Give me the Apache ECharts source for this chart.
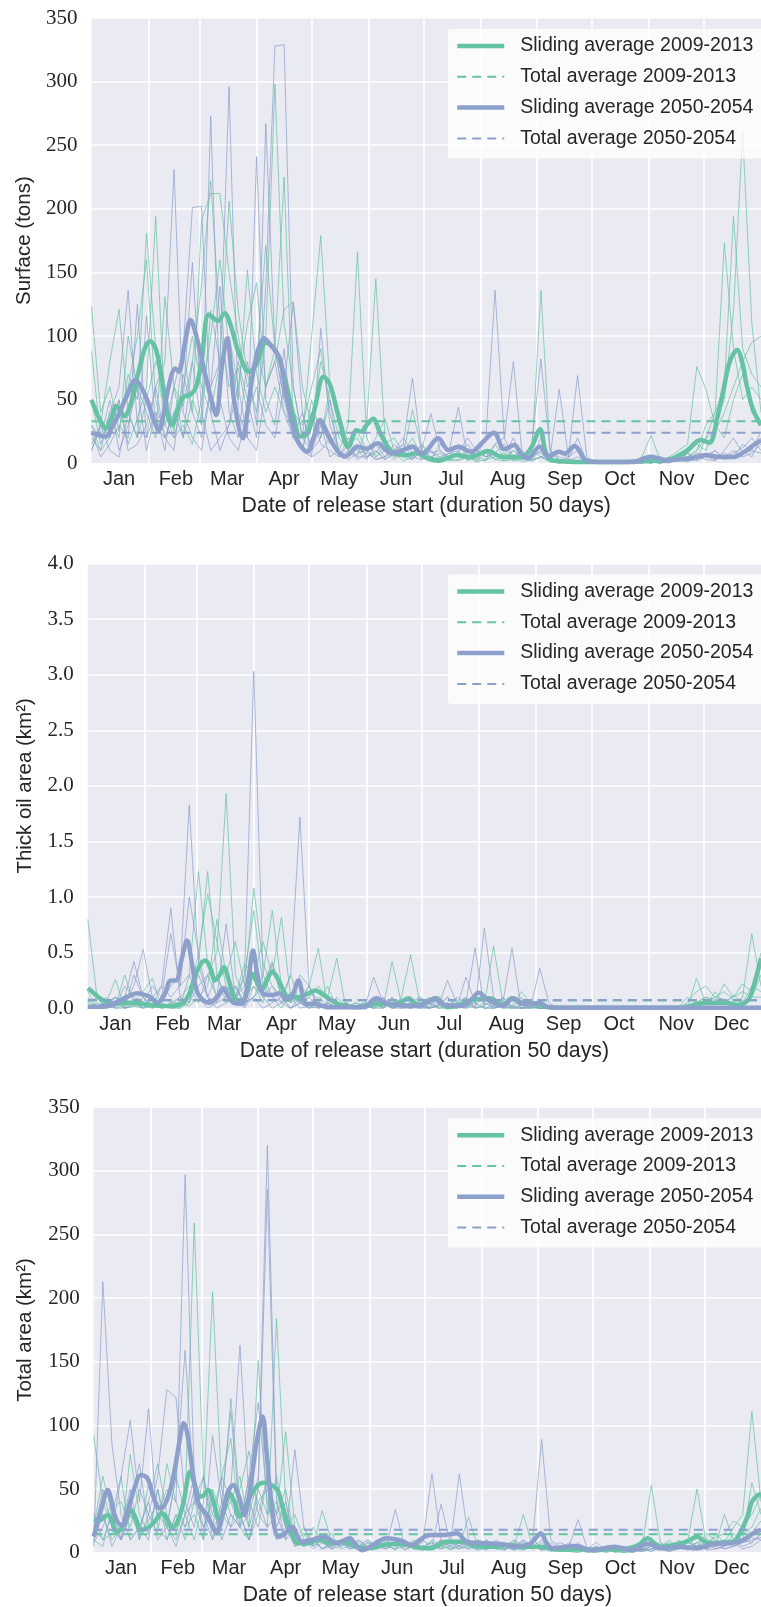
<!DOCTYPE html>
<html><head><meta charset="utf-8">
<script src="https://cdn.jsdelivr.net/npm/echarts@6/dist/echarts.min.js"></script>
<style>html,body{margin:0;padding:0;background:#fff}#c{width:761px;height:1607px}</style>
</head><body><div id="c"></div>
<script>
// ---------- categories / ticks ----------
const monthNames = ['Jan','Feb','Mar','Apr','May','Jun','Jul','Aug','Sep','Oct','Nov','Dec'];
const monthMidDays = [15,46,74,105,135,166,196,227,258,288,319,349];
const monthStartDays = [31,59,90,120,151,181,212,243,273,304,334];
const days = [0,5,10,15,20,25,30,35,40,45,50,55,60,65,70,75,80,85,90,95,100,105,110,115,120,125,130,135,140,145,150,155,160,165,170,175,180,185,190,195,200,205,210,215,220,225,230,235,240,245,250,255,260,265,270,275,280,285,290,295,300,305,310,315,320,325,330,335,340,345,350,355,360,365];
const legendNames = ['Sliding average 2009-2013','Total average 2009-2013','Sliding average 2050-2054','Total average 2050-2054'];

// ---------- Panel 1: Surface (tons) ----------
const surfY0913_1 = [123,40,60,25,70,50,181,90,30,60, 45,80,140,222,110,60,75,40,90,60, 80,121,127,60,30,80,50,20,10,25, 10,5,15,20,8,42,10,5,3,8, 5,10,3,2,15,5,3,8,2,5, 2,1,0,1,0,0,1,0,0,1, 0,2,5,1,3,5,10,20,40,60, 194,90,70,60];
const surfY0913_2 = [88,20,30,50,15,35,60,194,40,20, 30,15,50,100,160,90,50,152,70,40, 60,40,30,20,100,179,60,30,15,20, 5,10,3,8,2,5,15,3,1,3, 2,5,1,3,5,8,2,3,6,136, 10,3,1,0,0,1,0,0,0,0, 1,0,2,5,3,8,15,10,30,50, 120,260,110,40];
const surfY0913_3 = [10,30,80,121,40,20,50,80,60,25, 90,40,191,212,212,150,100,60,80,171, 90,50,40,30,60,90,40,10,30,166, 20,5,10,3,8,20,5,10,2,5, 8,3,5,10,3,2,5,1,3,10, 3,1,2,0,1,0,0,1,0,0, 5,22,3,1,5,8,3,20,25,40, 60,80,95,100];
const surfY0913_4 = [30,10,20,40,60,100,160,50,20,40, 60,100,60,40,80,206,120,70,40,100, 298,110,60,20,40,30,15,25,10,5, 30,145,20,5,10,15,3,5,8,2, 3,5,2,8,3,5,10,3,2,5, 1,0,2,1,0,0,0,0,1,0, 2,3,0,5,10,15,76,58,30,20, 50,70,40,30];
const surfY0913_5 = [50,15,40,20,100,60,40,20,131,60, 20,50,30,120,80,100,60,110,142,60, 90,225,30,10,50,20,60,40,15,10, 8,20,35,10,5,3,10,2,5,3, 10,2,5,3,8,2,3,5,10,8, 2,0,1,0,0,1,0,0,0,2, 3,1,0,2,8,5,10,30,40,173, 90,50,60,50];
const surfY5054_1 = [20,10,40,60,136,30,20,60,80,231, 40,20,10,60,80,296,40,20,10,60, 80,40,20,10,5,106,30,10,5,15, 5,10,3,8,15,5,3,10,5,8, 10,15,5,20,136,20,5,10,3,5, 8,3,2,5,1,0,0,1,0,0, 0,1,0,3,5,2,4,8,3,5, 10,5,8,15];
const surfY5054_2 = [25,5,15,30,20,125,20,40,10,60, 90,201,202,40,10,30,80,50,20,140, 328,329,60,20,10,30,5,10,3,8, 10,3,5,15,8,3,10,39,10,5, 8,3,10,5,8,15,3,5,10,5, 3,10,5,69,5,1,0,0,1,0, 1,0,2,1,3,1,5,3,2,8, 5,10,5,20];
const surfY5054_3 = [15,30,10,5,40,20,116,30,20,40, 20,80,30,273,50,20,10,40,60,30, 20,60,126,40,10,20,50,5,20,10, 3,15,5,10,20,8,5,3,15,10, 44,5,10,5,8,3,10,5,15,82, 10,5,3,2,0,1,0,0,0,1, 0,2,1,0,5,3,2,6,10,4, 8,12,20,10];
const surfY5054_4 = [30,20,50,10,30,60,10,40,30,20, 50,158,40,10,20,30,60,20,241,50, 30,90,20,10,40,15,10,5,10,3, 8,3,5,10,15,67,10,5,3,5, 15,5,3,10,8,5,20,3,5,10, 5,58,5,10,2,1,0,0,1,0, 1,2,0,1,5,3,8,5,3,10, 20,8,10,25];
const surfY5054_5 = [10,30,20,50,10,15,30,60,20,10, 70,40,20,60,139,40,20,80,30,267, 90,50,20,40,5,10,20,5,15,5, 5,8,20,5,10,3,15,8,10,3, 8,20,10,5,15,20,80,3,5,20, 5,10,3,20,1,0,1,0,0,0, 2,0,3,1,2,8,3,5,10,3, 5,15,10,8];
const surfSlide0913 = [[0,50],[4,36],[8,27.5],[11,36],[13.5,45],[16,41],[18,37],[21,45],[25,68],[29,90],[32,96],[35,90],[38,70],[41,42],[44,30],[47,42],[50,52],[54,54],[57,60],[60,80],[64,117],[69,112],[72.5,118],[76,108],[80,88],[86,72],[90,78],[95,95],[98.5,92],[102,84],[106,63],[110,38],[114,21],[118,24],[122,45],[126.5,68],[130,62],[135,35],[140,13],[144.5,26],[147,25],[150,30],[153.5,35],[157,25],[161,14],[165,8],[172,6.5],[177.5,8],[183,4],[189,2],[194,4],[199,6.5],[206,5],[211,7],[216,9.7],[224,5],[235,5.2],[240,13],[244.5,26.7],[249,4],[258,1.5],[270,1],[290,1],[305,2],[314,2.5],[320,6],[325,10.4],[332,18.3],[337,16.2],[341,35],[344.5,57.6],[348,80],[352,89],[355,78],[357,62.8],[360.7,42],[365,30]];
const surfSlide5054 = [[0,24],[4,22],[8,21],[11,28],[14.3,36.6],[19,52],[24,65.4],[27,60],[30.4,49.7],[33.5,36],[36.7,26],[39.5,40],[42,60],[45.7,74.6],[47.5,72],[51,95],[54,112.6],[57.5,98],[61,75.9],[64.5,55],[68,38],[71,75],[74,98.2],[76,75],[78,47],[82.5,19.6],[85,40],[88,70.7],[91,90],[94,98.2],[97,94],[100.5,87.7],[103,81],[106,55],[109.5,31.4],[113,16],[117.5,9.1],[121,20],[124.7,34],[127.5,27],[130,19.6],[134,10],[138,5.2],[141,8],[145,13],[150,11.5],[156,15.7],[160,11],[163.6,7.8],[169,10],[175,13],[180,7.8],[183,10.4],[189,19.6],[194.6,10.4],[200,13],[207,9],[213.5,17],[219.4,24],[225,11],[230.5,14.4],[234,8],[238,4],[244.3,13],[249,5.2],[254.7,9.1],[258,7.8],[263.4,13.6],[270,2],[280,1],[295,1],[305,5.2],[314,2.5],[320,3],[327,4],[334.7,6.5],[343,5],[350,5],[356,9],[361,14.4],[365,18]];
const surfTotal = [33, 24];

// ---------- Panel 2: Thick oil area (km2) ----------
const thickY0913_1 = [0.8,0.1,0,0.05,0,0.02,0.1,0,0.05,0, 0,0.3,1.23,0.4,0.1,0.2,0.05,0.3,0.88,0.2, 0.1,0,0.15,0.05,0,0.1,0.02,0,0.05,0, 0,0.05,0,0.42,0.05,0,0.02,0,0.03,0, 0,0.05,0,0.02,0.1,0,0,0.03,0,0, 0,0,0,0,0,0,0,0,0,0, 0,0,0,0,0.02,0,0.05,0.1,0.08,0.05, 0.1,0.22,0.15,0.5];
const thickY0913_2 = [0.1,0,0.05,0.26,0,0.02,0,0.05,0,0.03, 0.1,0.05,0.4,1.23,0.3,0.1,0.2,0.05,0.1,0.3, 0.88,0.2,0.05,0.1,0,0.05,0.2,0,0,0.05, 0.02,0,0.05,0,0.1,0.48,0.05,0,0.02,0.1, 0.03,0,0.05,0,0,0.02,0,0,0.01,0, 0,0,0,0,0.01,0,0,0,0,0, 0,0,0.02,0,0,0.05,0.15,0.2,0.1,0.08, 0.05,0.1,0.67,0.2];
const thickY0913_3 = [0.05,0.1,0,0.02,0.3,0.05,0,0.02,0.05,0, 0.02,0.1,0.5,1.03,0.6,0.2,0.1,0.4,0.3,0.6, 0.3,0.82,0.1,0.05,0.2,0.05,0,0.1,0.02,0, 0.05,0,0.02,0.1,0,0.05,0.03,0.1,0,0.02, 0.05,0.1,0,0.02,0.56,0.05,0.02,0.15,0.05,0, 0.01,0,0,0,0,0,0.01,0,0,0, 0,0.01,0,0,0,0.1,0.05,0,0.15,0.05, 0.12,0.05,0.1,0.3];
const thickY0913_4 = [0.15,0,0.1,0,0.02,0.05,0.15,0.27,0,0.02, 0,0.05,0.2,0.3,0.5,1.93,0.3,0.1,0.2,0.05, 0.4,0.1,0.05,0.3,0.2,0.54,0.02,0.05,0,0.02, 0,0.02,0.05,0,0.02,0,0.1,0.05,0,0.05, 0,0.02,0.05,0.1,0,0.05,0.1,0,0.02,0, 0,0,0.01,0,0,0,0,0,0,0, 0,0,0,0.02,0,0,0.27,0.05,0.1,0.15, 0.08,0.05,0.2,0.15];
const thickY0913_5 = [0.05,0.02,0.05,0.1,0,0.03,0.02,0,0.1,0.05, 0.05,0.02,0.1,0.2,0.8,0.3,0.6,0.2,1.08,0.4, 0.2,0.1,0.3,0.05,0.1,0.2,0.1,0.45,0,0.05, 0.02,0.1,0,0.05,0.02,0.05,0,0.02,0.1,0, 0.02,0,0.1,0.05,0,0.1,0.02,0,0,0.02, 0,0,0,0,0,0,0,0.01,0,0, 0,0,0,0,0.01,0,0.05,0.1,0.05,0.22, 0.1,0.15,0.1,0.1];
const thickY5054_1 = [0,0.02,0.05,0,0.1,0.42,0.1,0,0.05,0.2, 0.3,1.83,0.4,0.1,0,0.05,0.2,0.02,0.1,0, 0.05,0.1,0,0.05,0,0.02,0,0,0.05,0, 0,0.28,0.05,0,0.02,0,0.05,0,0.02,0.1, 0,0.05,0,0.72,0.1,0,0.02,0,0.05,0, 0,0,0.01,0,0,0,0,0,0,0.01, 0,0,0,0,0,0,0,0,0.01,0, 0,0,0.01,0];
const thickY5054_2 = [0.02,0,0,0.1,0.05,0.2,0.53,0.1,0,0.05, 0.1,0.2,0.05,0.3,0.1,0.76,0.1,0,0.2,0.1, 0,0.05,0.1,0,0.02,0,0.05,0,0,0.02, 0.05,0,0.1,0,0,0.05,0.1,0,0.02,0.25, 0.05,0,0.02,0.1,0,0.05,0,0.1,0,0.36, 0.05,0,0,0,0.02,0,0,0,0,0, 0,0,0,0,0,0,0,0.01,0,0, 0,0.02,0,0];
const thickY5054_3 = [0.01,0,0.02,0,0,0.05,0,0.1,0.2,0.9, 0.1,0.05,0.3,0.1,0.05,0.2,0.1,0.3,3.03,0.3, 0.1,0.05,0,0.1,0.2,0,0.05,0,0,0.02, 0,0.05,0,0.1,0,0.02,0,0.05,0,0, 0.1,0.05,0.54,0,0.02,0.1,0,0,0.05,0, 0,0,0,0,0,0,0.01,0,0,0, 0,0,0.01,0,0,0,0,0,0,0.02, 0,0,0,0.01];
const thickY5054_4 = [0,0.05,0,0.02,0.2,0.1,0.05,0.2,0.1,0.67, 0.2,0.3,0.1,0,0.05,0.1,0.2,0.05,0.1,0.2, 0.42,0.1,0,0.05,0.1,0,0.02,0,0.05,0, 0.02,0,0,0.05,0,0,0.02,0,0.05,0, 0,0.28,0.05,0,0,0.02,0.1,0,0,0.05, 0,0,0,0.01,0,0,0,0,0,0, 0,0.01,0,0,0,0,0.01,0,0,0, 0.02,0,0,0];
const thickY5054_5 = [0.02,0,0.05,0.1,0,0.3,0.1,0.02,0.2,0.1, 0.2,1.0,0.5,0.1,0.3,0.05,0.1,0.2,0.5,0.1, 0.2,0.05,0.3,1.72,0.2,0,0.05,0,0.02,0, 0,0.02,0.1,0,0.05,0.02,0,0,0.1,0.02, 0.02,0.1,0,0.05,0.02,0.05,0.54,0,0.02,0, 0,0,0,0,0,0.01,0,0,0,0, 0,0,0,0,0,0.02,0,0,0,0, 0,0,0.02,0];
const thickSlide0913 = [[0,0.18],[3,0.14],[6.5,0.09],[10,0.06],[14,0.04],[20,0.05],[25,0.05],[30,0.04],[34,0.03],[40,0.02],[45,0.02],[49,0.03],[52,0.05],[55,0.13],[57.4,0.25],[60.5,0.38],[63.7,0.43],[66.5,0.36],[69,0.25],[71.5,0.3],[73.8,0.37],[76.5,0.25],[79.7,0.09],[84,0.07],[86.5,0.15],[89.2,0.31],[91.5,0.24],[94,0.16],[97,0.25],[100,0.33],[103.5,0.25],[107.4,0.12],[111,0.1],[114.5,0.1],[119,0.13],[123.5,0.16],[127,0.13],[131,0.085],[137,0.03],[146,0.01],[152,0.03],[157,0.04],[161,0.04],[165,0.035],[170,0.06],[174,0.09],[177,0.05],[180,0.03],[184,0.06],[189,0.09],[195,0.01],[203,0.04],[210.6,0.08],[218,0.09],[225,0.03],[230,0.09],[236,0.05],[240,0.05],[247,0.02],[253,0.005],[290,0.005],[321,0.005],[326.7,0.02],[330,0.04],[339,0.05],[346,0.05],[352,0.03],[358,0.075],[361,0.2],[365,0.45]];
const thickSlide5054 = [[0,0.015],[8,0.015],[12,0.03],[16.4,0.06],[21,0.1],[27,0.135],[31,0.12],[34,0.1],[38,0.05],[41.5,0.12],[45,0.25],[47.7,0.25],[51,0.45],[53.8,0.61],[56.5,0.4],[59,0.16],[62,0.08],[66,0.05],[70,0.1],[73.5,0.18],[76.5,0.1],[79,0.05],[83.5,0.04],[86.5,0.2],[89.6,0.52],[92,0.3],[95,0.135],[100,0.12],[104,0.135],[108,0.08],[111,0.12],[114.2,0.25],[116.5,0.12],[118,0.04],[123.5,0.04],[130,0.01],[150,0.01],[153,0.05],[156.5,0.09],[160,0.06],[163,0.04],[170,0.03],[178.5,0.02],[184,0.05],[188,0.09],[191,0.05],[194,0.03],[203,0.02],[208,0.08],[212,0.14],[216,0.09],[220,0.05],[225,0.02],[230.5,0.09],[236,0.04],[241,0.04],[245,0.05],[250,0.01],[270,0.005],[365,0.005]];
const thickTotal = [0.07, 0.075];

// ---------- Panel 3: Total area (km2) ----------
const totY0913_1 = [92,40,20,10,30,15,25,40,20,10, 30,40,60,20,30,121,40,20,50,30, 60,20,10,15,5,33,10,5,8,3, 5,10,3,8,2,5,10,3,5,8, 3,5,10,5,3,2,8,3,5,2, 3,1,2,5,1,0,2,1,0,1, 2,5,3,1,8,3,5,10,5,30, 10,20,15,25];
const totY0913_2 = [20,60,30,10,77,30,15,50,10,30, 10,40,20,30,60,90,20,10,30,60, 30,50,10,5,20,8,3,10,5,2, 8,3,10,5,8,3,2,10,5,3, 5,28,5,10,3,5,2,8,3,5, 2,5,1,0,3,1,5,0,2,1, 3,1,5,10,3,8,5,3,15,8, 20,30,111,40];
const totY0913_3 = [10,5,35,40,20,50,30,15,70,40, 20,30,10,50,30,40,60,20,151,30, 40,20,30,10,5,10,15,3,5,8, 3,5,8,2,10,3,5,8,3,10, 8,3,5,2,10,3,5,30,5,3, 5,2,1,3,0,2,1,3,0,2, 1,3,5,8,3,10,5,15,10,5, 15,10,55,30];
const totY0913_4 = [30,10,15,60,10,20,40,70,30,15, 40,259,60,10,30,20,50,80,30,20, 184,40,10,20,8,15,5,10,3,5, 10,5,3,8,5,10,3,5,8,2, 5,10,3,8,5,2,10,5,3,8, 3,1,5,2,1,3,0,2,1,3, 5,53,8,3,10,5,8,12,5,10, 8,15,20,35];
const totY0913_5 = [15,30,10,20,40,10,55,30,20,60, 30,10,40,205,50,30,20,60,40,50, 30,95,20,5,10,3,8,5,10,3, 2,8,5,3,5,8,2,5,3,5, 10,5,2,3,8,5,3,2,10,5, 1,3,2,5,2,1,3,1,2,0, 3,8,5,3,5,10,50,8,12,15, 25,20,30,45];
const totY5054_1 = [5,213,85,30,10,20,40,10,20,5, 30,60,10,92,40,20,30,10,50,285, 40,10,20,5,10,3,8,10,5,3, 8,5,3,10,5,8,3,5,10,5, 62,10,5,3,8,5,2,10,5,3, 5,2,8,3,1,5,2,3,1,2, 3,1,5,2,3,8,5,3,5,10, 5,8,10,12];
const totY5054_2 = [20,10,30,60,104,40,113,20,10,30, 20,50,30,10,40,111,30,10,40,20, 30,10,81,20,5,10,3,8,5,10, 5,3,8,5,10,3,5,8,3,10, 5,3,10,8,3,5,10,3,8,89, 10,5,3,8,2,5,1,3,2,1, 2,5,3,1,5,3,8,2,3,5, 8,3,5,10];
const totY5054_3 = [10,30,5,20,50,10,30,60,128,122, 40,20,60,30,20,50,163,40,20,60, 20,40,5,10,3,8,5,10,3,5, 10,3,5,34,5,8,3,5,10,3, 8,5,3,10,5,3,8,2,5,10, 3,8,5,26,3,2,5,1,3,2, 1,3,2,5,8,3,5,3,8,3, 5,10,8,15];
const totY5054_4 = [15,50,20,10,40,70,20,30,50,40, 297,60,20,40,10,30,20,60,118,40, 10,20,5,8,10,3,5,8,3,10, 3,8,5,3,10,5,8,62,10,5, 3,8,5,10,3,5,3,8,5,2, 5,3,1,5,3,8,2,3,5,1, 3,5,8,3,5,2,5,8,3,5, 10,5,8,15];
const totY5054_5 = [8,20,40,10,30,20,10,50,20,60, 159,40,30,20,60,40,20,30,60,320, 50,20,10,5,8,10,3,5,10,5, 3,10,5,8,3,5,10,5,38,8, 5,10,3,5,8,3,5,10,3,5, 8,3,5,2,3,1,5,2,3,5, 2,3,5,1,3,5,2,8,5,3, 5,8,12,10];
const totSlide0913 = [[0,26.2],[3,25.4],[7.7,29.6],[10,25],[12.2,16.5],[14.5,18],[16.7,23],[20.3,33.6],[23,27],[25.7,17.8],[29,19],[33,23.8],[37.5,31],[40,27],[42.9,19.2],[46,25],[49,38.8],[52.8,63.7],[55,55],[58,44],[60,45],[62.7,49.3],[65.5,40],[69,25.7],[71.5,34],[74.4,46.7],[77,40],[79.8,28.3],[83,36],[87,48],[92.4,55],[96,54],[100.5,49.3],[103,38],[106.8,20.4],[112,7.4],[117.5,7.4],[123,10],[130,7.4],[137,8.6],[144,4.7],[151,3.4],[158,6],[167,7],[176,4.7],[184,3.4],[193,8.6],[202,8.6],[209.5,5.3],[218.5,4.7],[227.5,6],[234.7,4.7],[243.7,4.7],[252.7,2.6],[263.5,2.6],[278,2.6],[292,3.4],[298,6],[303,11.3],[307,7],[310.5,4.7],[321.3,7.4],[326,10],[330,12.6],[334,9],[337,7.4],[343,8],[349.7,8.6],[353,14],[355.3,20.4],[358,30],[360,40],[363,45],[365,46]];
const totSlide5054 = [[0,12.6],[4,33.6],[7.7,49.3],[9.5,42],[11.4,29.6],[13.5,23],[15.8,21.8],[18,30],[20.3,41.4],[23,54],[25.7,61],[29.3,58.7],[32,47],[34.8,36],[37,35],[40,41.4],[42.5,53],[44.6,67.6],[47,88],[49.2,101.7],[51,95],[52.8,78],[55,55],[57.3,38.8],[62,29.6],[64.5,22],[67.2,15.2],[70,28],[73,46],[76.2,53.2],[79.5,44],[82.5,29.6],[85,45],[87,65],[89.5,90],[92.4,107],[94.5,80],[97,41.4],[101,12.4],[104.5,15],[108.6,20.4],[111,14],[114,8.6],[119,10],[126,12.6],[133,7.4],[140,11.3],[143.5,6],[147,2],[152.7,6],[156,9],[160,11.3],[167,10],[174.5,6],[177,8.6],[184,13.9],[191.5,13.9],[198.7,15.2],[204,8.6],[213,7.4],[224,6.7],[231,4.7],[238.5,6.8],[241.5,11],[244.5,15.2],[248,7],[251,3.4],[257,4.5],[263.5,5.3],[272.5,2],[285,4.7],[294,2],[303,7],[310.5,3.4],[319.5,4.7],[330,3.4],[339,7],[348,7.4],[355.3,10],[360.7,15.2],[365,18]];
const totTotal = [14.5, 18];

// ---------- build ----------
const GREEN = '#66c2a5', BLUE = '#8da0cb', TXT = '#262626';
const SANS = 'Liberation Sans', SERIF = 'Liberation Serif';
const panels = [
  {grid:{left:91.5, top:18, width:677.5, height:445.3}, yName:'Surface (tons)', max:350, interval:50, dec:0, nameGap:57,
   thin09:[surfY0913_1,surfY0913_2,surfY0913_3,surfY0913_4,surfY0913_5], thin50:[surfY5054_1,surfY5054_2,surfY5054_3,surfY5054_4,surfY5054_5],
   sa09:surfSlide0913, sa50:surfSlide5054, tot:surfTotal},
  {grid:{left:87.8, top:563.5, width:681.5, height:444.8}, yName:'Thick oil area (km²)', max:4, interval:0.5, dec:1, nameGap:52,
   thin09:[thickY0913_1,thickY0913_2,thickY0913_3,thickY0913_4,thickY0913_5], thin50:[thickY5054_1,thickY5054_2,thickY5054_3,thickY5054_4,thickY5054_5],
   sa09:thickSlide0913, sa50:thickSlide5054, tot:thickTotal},
  {grid:{left:93.7, top:1107.2, width:675.3, height:445.5}, yName:'Total area (km²)', max:350, interval:50, dec:0, nameGap:58,
   thin09:[totY0913_1,totY0913_2,totY0913_3,totY0913_4,totY0913_5], thin50:[totY5054_1,totY5054_2,totY5054_3,totY5054_4,totY5054_5],
   sa09:totSlide0913, sa50:totSlide5054, tot:totTotal}
];

const grid = [], xAxis = [], yAxis = [], series = [], legend = [];
panels.forEach((p, i) => {
  grid.push(Object.assign({show:true, backgroundColor:'#eaeaf2', borderWidth:0, containLabel:false}, p.grid));
  xAxis.push({
    type:'value', gridIndex:i, min:0, max:365,
    axisLine:{show:false},
    axisTick:{show:false, customValues:monthStartDays},
    splitLine:{show:true, lineStyle:{color:'#ffffff', width:1.6}},
    axisLabel:{customValues:monthMidDays, formatter:v => monthNames[monthMidDays.indexOf(v)] || '',
      color:TXT, fontFamily:SANS, fontSize:20, margin:6},
    name:'Date of release start (duration 50 days)', nameLocation:'middle', nameGap:32,
    nameTextStyle:{color:TXT, fontFamily:SANS, fontSize:21.3}
  });
  yAxis.push({
    type:'value', gridIndex:i, min:0, max:p.max, interval:p.interval,
    axisLine:{show:false}, axisTick:{show:false},
    splitLine:{show:true, lineStyle:{color:'#ffffff', width:1.6}},
    axisLabel:{color:TXT, fontFamily:SERIF, fontSize:21, margin:14, formatter:v => v.toFixed(p.dec)},
    name:p.yName, nameLocation:'middle', nameGap:p.nameGap,
    nameTextStyle:{color:TXT, fontFamily:SANS, fontSize:20.5}
  });
  const thin = (vals, color, k) => ({
    type:'line', name:'thin'+i+'_'+k, xAxisIndex:i, yAxisIndex:i, symbol:'none', silent:true, z:2,
    data:days.map((d, j) => [d, vals[j]]),
    lineStyle:{width:1, color:color, opacity:0.72}, itemStyle:{color:color}
  });
  p.thin09.forEach((v, k) => series.push(thin(v, GREEN, 'g'+k)));
  p.thin50.forEach((v, k) => series.push(thin(v, BLUE, 'b'+k)));
  const slide = (data, color, name, z) => ({
    type:'line', name:name, xAxisIndex:i, yAxisIndex:i, symbol:'none', smooth:0.35, z:z,
    data:data, lineStyle:{width:4.5, color:color}, itemStyle:{color:color}
  });
  const total = (v, color, name, z) => ({
    type:'line', name:name, xAxisIndex:i, yAxisIndex:i, symbol:'none', z:z,
    data:[[0, v], [365, v]], lineStyle:{width:2, color:color, type:[9,6]}, itemStyle:{color:color}
  });
  series.push(slide(p.sa09, GREEN, legendNames[0], 3));
  series.push(total(p.tot[0], GREEN, legendNames[1], 3));
  series.push(slide(p.sa50, BLUE, legendNames[2], 4));
  series.push(total(p.tot[1], BLUE, legendNames[3], 4));
  legend.push({
    orient:'vertical', left:448, top:p.grid.top + 11, z:10,
    itemWidth:47, itemHeight:20, itemGap:10.8, padding:[7,10,10,7],
    backgroundColor:'rgba(255,255,255,0.78)', borderWidth:0, borderRadius:3,
    selectedMode:false,
    itemStyle:{opacity:0},
    textStyle:{color:TXT, fontFamily:SANS, fontSize:19.5, lineHeight:20, padding:[0,0,0,11]},
    data:[
      {name:legendNames[0], lineStyle:{width:4.5}},
      {name:legendNames[1], lineStyle:{width:2}},
      {name:legendNames[2], lineStyle:{width:4.5}},
      {name:legendNames[3], lineStyle:{width:2}}
    ]
  });
});

const chart = echarts.init(document.getElementById('c'), null, {renderer:'canvas', width:761, height:1607});
chart.setOption({animation:false, backgroundColor:'#ffffff', grid, xAxis, yAxis, series, legend});
</script>
</body></html>
